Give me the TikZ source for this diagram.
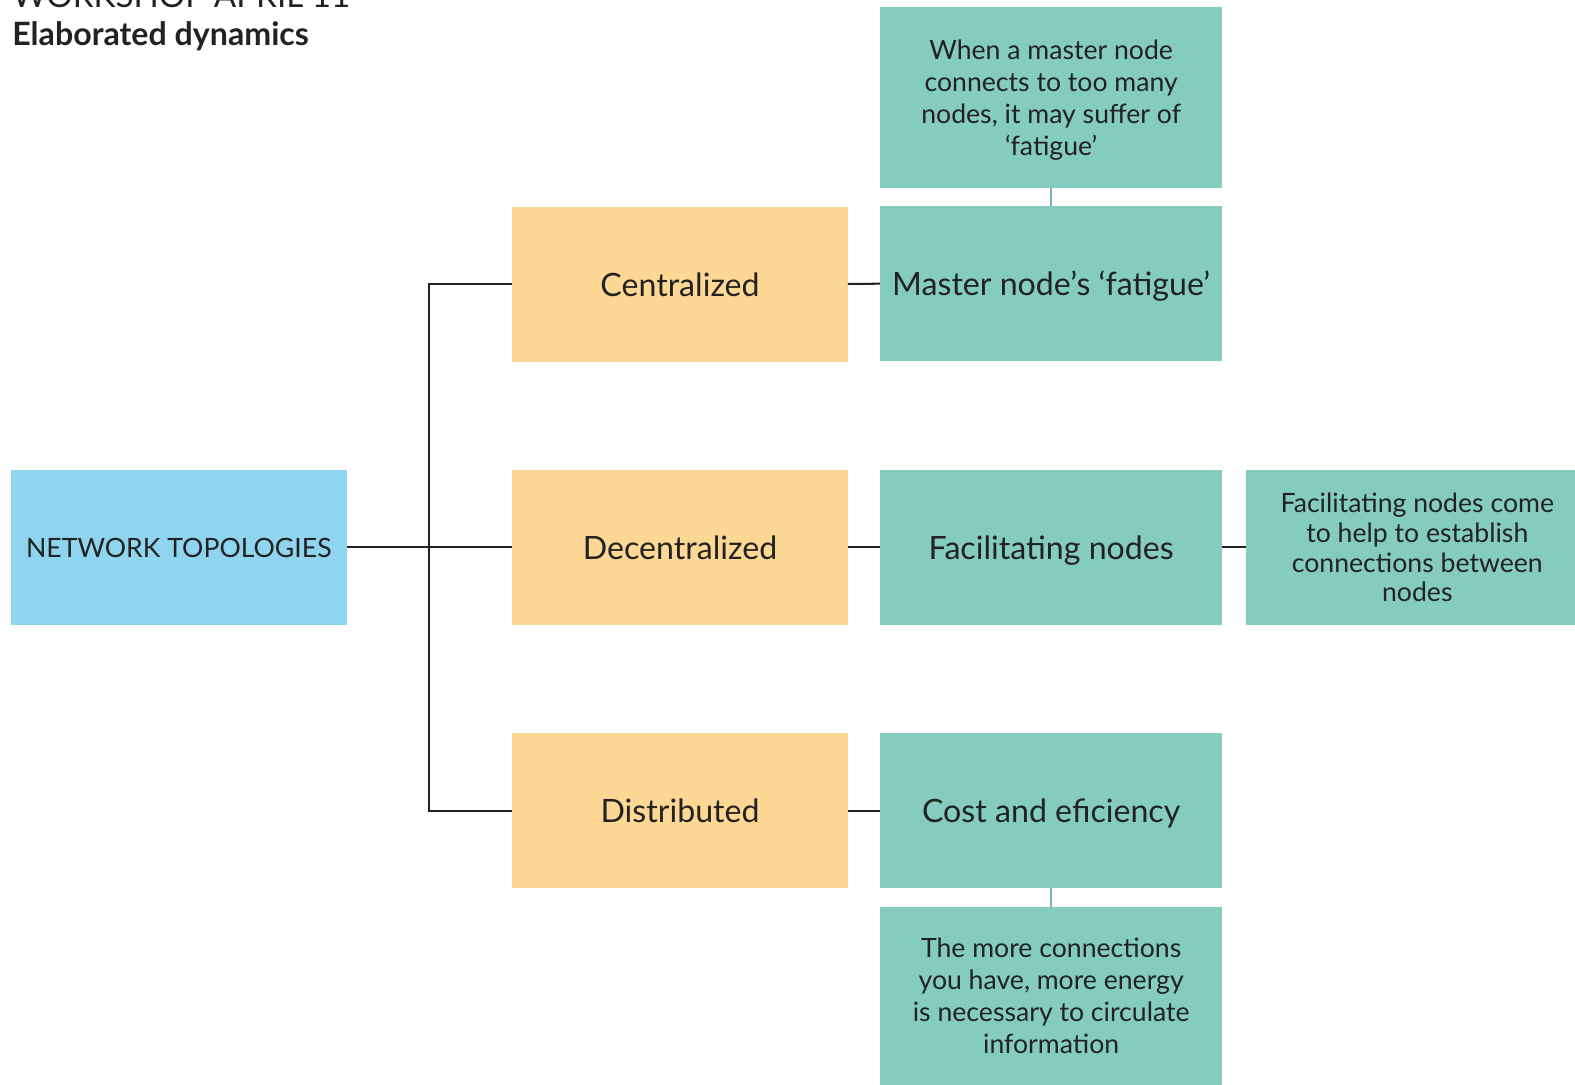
\documentclass[tikz,border=0pt]{standalone}
\usepackage{fontspec}
\setmainfont{Lato}
\usepackage{xcolor}
\usepackage{tikz}
\usetikzlibrary{positioning}
\definecolor{topicblue}{HTML}{8FD5EF}
\definecolor{branchorange}{HTML}{FDD794}
\definecolor{detailgreen}{HTML}{84CDBE}
\definecolor{inkdark}{HTML}{222222}

\begin{document}
\begin{tikzpicture}[x=1pt, y=-1pt]
    % Styles
    \tikzstyle{topic} = [rectangle, minimum width=334pt, minimum height=154pt, inner sep=0pt, outer sep=0pt, text depth=0pt, text centered, fill=topicblue, text=inkdark, font=\fontsize{26.5}{32}\selectfont]
    \tikzstyle{branch} = [rectangle, minimum width=334pt, minimum height=154pt, inner sep=0pt, outer sep=0pt, text depth=0pt, text centered, fill=branchorange, text=inkdark, font=\fontsize{32}{38}\selectfont]
    \tikzstyle{detail} = [rectangle, minimum width=341pt, minimum height=154pt, inner sep=0pt, outer sep=0pt, text depth=0pt, text centered, fill=detailgreen, text=inkdark, font=\fontsize{32}{38}\selectfont]
    \tikzstyle{note} = [rectangle, minimum width=341pt, inner sep=0pt, outer sep=0pt, text depth=0pt, align=center, fill=detailgreen, text=inkdark, font=\fontsize{26.5}{32}\selectfont]
    \tikzstyle{link} = [line width=2pt, draw=inkdark]
    \tikzstyle{notelink} = [line width=2pt, draw=detailgreen!90!black]

    \useasboundingbox (0,0) rectangle (1568,1080);

    % Title
    \node[anchor=base west, inner sep=0pt, text=inkdark, font=\fontsize{33}{38}\selectfont] (ws) at (12,7) {WORKSHOP APRIL 11};
    \node[anchor=base west, inner sep=0pt, text=inkdark, font=\fontsize{32}{38}\selectfont\bfseries] (title) at (12,45) {Elaborated dynamics};

    % Nodes - using absolute positioning
    \node[topic] (root) at (178,545) {NETWORK TOPOLOGIES};
    \node[branch] (cent) at (677,283) {Centralized};
    \node[branch] (decent) at (677,545) {Decentralized};
    \node[branch] (dist) at (677,807) {Distributed};
    \node[detail] (master) at (1046.5,282) {Master node’s ‘fatigue’};
    \node[detail] (facil) at (1046.5,545) {Facilitating nodes};
    \node[detail] (cost) at (1046.5,807) {Cost and eficiency};

    % Side notes
    \node[note, minimum height=180pt] (fatnote) at (1046.5,97) {When a master node\\connects to too many\\nodes, it may suffer of\\‘fatigue’};
    \node[note, minimum height=177pt] (costnote) at (1046.5,991.5) {The more connections\\you have, more energy\\is necessary to circulate\\information};
    \node[note, minimum width=342pt, minimum height=154pt, font=\fontsize{26.5}{29.5}\selectfont] (facilnote) at (1411,545) {Facilitating nodes come\\to help to establish\\connections between\\nodes};

    % Arrows
    \coordinate (trunk) at (427,545);
    \draw[link] (root.east) -- (decent.west);
    \draw[link] (trunk) |- (cent.west);
    \draw[link] (trunk) |- (dist.west);
    \draw[link] (cent) -- (master);
    \draw[link] (decent) -- (facil);
    \draw[link] (dist) -- (cost);
    \draw[link] (facil) -- (facilnote);

    % Side links
    \draw[notelink] (fatnote.south) -- (master.north);
    \draw[notelink] (cost.south) -- (costnote.north);
\end{tikzpicture}
\end{document}
